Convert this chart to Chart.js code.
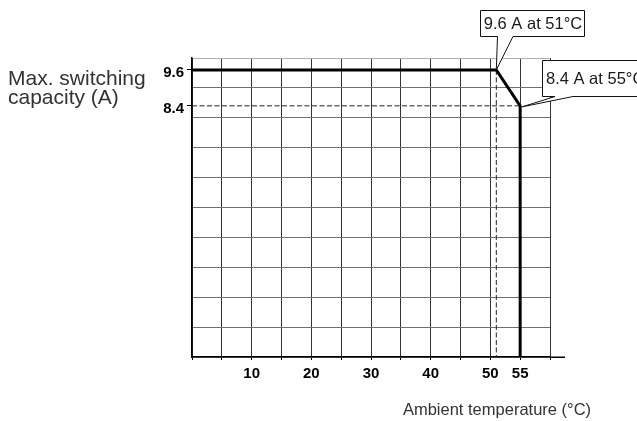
<!DOCTYPE html>
<html>
<head>
<meta charset="utf-8">
<script src="https://cdn.jsdelivr.net/npm/chart.js@4"></script>
<style>
  html, body { margin: 0; padding: 0; background: #fff; }
  #wrap { width: 637px; height: 421px; }
</style>
</head>
<body>
<div id="wrap"><canvas id="derating"></canvas></div>
<script>
// derating curve: max switching current vs ambient temperature
var temps = [0, 51, 55, 55];
var capacity = [9.6, 9.6, 8.4, 0];
var xTickLabels = [10, 20, 30, 40, 50, 55];
var yTickLabels = [9.6, 8.4];
var yGridValues = [0, 1, 2, 3, 4, 5, 6, 7, 8, 9, 10];
var calloutTexts = ['9.6 A at 51°C', '8.4 A at 55°C'];

var FONT = '"Liberation Sans", Arial, Helvetica, sans-serif';

// dashed guide lines from the knee points back to the axes
var guideH = [{x: 0, y: capacity[2]}, {x: temps[2], y: capacity[2]}];
var guideV = [{x: temps[1], y: capacity[1]}, {x: temps[1], y: 0}];

function isLabelled(v) {
  return yTickLabels.indexOf(v) !== -1;
}

function drawCallout(ctx, box, baseX1, baseX2, tip, text, textX, textAlign) {
  ctx.save();
  ctx.beginPath();
  ctx.moveTo(box.l, box.t);
  ctx.lineTo(box.r, box.t);
  ctx.lineTo(box.r, box.b);
  ctx.lineTo(baseX2, box.b);
  ctx.lineTo(tip.x, tip.y);
  ctx.lineTo(baseX1, box.b);
  ctx.lineTo(box.l, box.b);
  ctx.closePath();
  ctx.fillStyle = '#fff';
  ctx.fill();
  ctx.lineWidth = 1;
  ctx.strokeStyle = '#111';
  ctx.stroke();
  ctx.fillStyle = '#1a1a1a';
  ctx.font = '16.5px ' + FONT;
  ctx.textAlign = textAlign;
  ctx.textBaseline = 'middle';
  ctx.fillText(text, textX, (box.t + box.b) / 2 + 0.5);
  ctx.restore();
}

var decor = {
  id: 'decor',
  afterDraw: function(chart) {
    var ctx = chart.ctx;
    var xs = chart.scales.x, ys = chart.scales.y;
    var area = chart.chartArea;

    // x axis line runs a bit past the last grid line
    ctx.save();
    ctx.strokeStyle = '#000';
    ctx.lineWidth = 1.5;
    ctx.beginPath();
    ctx.moveTo(area.right, area.bottom + 0.25);
    ctx.lineTo(area.right + 15, area.bottom + 0.25);
    ctx.stroke();
    ctx.restore();

    var tip1 = {x: xs.getPixelForValue(temps[1]), y: ys.getPixelForValue(capacity[1])};
    var tip2 = {x: xs.getPixelForValue(temps[2]) + 2, y: ys.getPixelForValue(capacity[2]) + 1};
    drawCallout(ctx, {l: 480.5, t: 10.5, r: 584.5, b: 36.5}, 497.5, 513, tip1,
      calloutTexts[0], 533, 'center');
    drawCallout(ctx, {l: 542.5, t: 60.5, r: 660, b: 96.5}, 555, 573, tip2,
      calloutTexts[1], 546, 'left');

    // axis titles
    ctx.save();
    ctx.fillStyle = '#333';
    ctx.textBaseline = 'alphabetic';
    ctx.font = '21px ' + FONT;
    ctx.textAlign = 'left';
    ctx.fillText('Max. switching', 8, 85);
    ctx.fillText('capacity (A)', 8, 104);
    ctx.font = '16.5px ' + FONT;
    ctx.textAlign = 'center';
    ctx.fillText('Ambient temperature (°C)', 497, 415);
    ctx.restore();
  }
};

var chart = new Chart(document.getElementById('derating'), {
  type: 'scatter',
  data: {
    datasets: [
      {
        label: 'capacity',
        data: temps.map(function(t, i) { return {x: t, y: capacity[i]}; }),
        showLine: true,
        borderColor: '#000',
        borderWidth: 3,
        pointRadius: 0,
        fill: false,
        clip: false
      },
      {
        label: 'guideH',
        data: guideH,
        showLine: true,
        borderColor: '#222',
        borderWidth: 1,
        borderDash: [5, 2.5],
        pointRadius: 0
      },
      {
        label: 'guideV',
        data: guideV,
        showLine: true,
        borderColor: '#222',
        borderWidth: 1,
        borderDash: [5, 2.5],
        pointRadius: 0
      }
    ]
  },
  options: {
    responsive: true,
    maintainAspectRatio: false,
    animation: false,
    events: [],
    layout: { padding: { top: 58, right: 87, left: 0, bottom: 0 } },
    plugins: {
      legend: { display: false },
      tooltip: { enabled: false },
      title: { display: false }
    },
    scales: {
      x: {
        type: 'linear',
        min: 0,
        max: 60,
        afterFit: function(s) { s.height = 64; },
        ticks: {
          stepSize: 5,
          autoSkip: false,
          maxRotation: 0,
          padding: 5,
          color: '#000',
          font: { family: FONT, size: 15, weight: 'bold' },
          callback: function(v) { return xTickLabels.indexOf(v) !== -1 ? String(v) : ''; }
        },
        grid: {
          color: '#333',
          lineWidth: 1,
          tickLength: 3,
          tickColor: '#000'
        },
        border: { color: '#000', width: 1.5 }
      },
      y: {
        type: 'linear',
        min: 0,
        max: 10,
        afterFit: function(s) { s.width = 192; },
        afterBuildTicks: function(s) {
          s.ticks = yGridValues.concat(yTickLabels).map(function(v) { return {value: v}; });
        },
        ticks: {
          autoSkip: false,
          padding: 3,
          labelOffset: 3,
          color: '#000',
          font: { family: FONT, size: 15, weight: 'bold' },
          callback: function(v) { return isLabelled(v) ? v.toFixed(1) : ''; }
        },
        grid: {
          lineWidth: 1,
          tickLength: 5,
          color: function(c) {
            var v = c.tick ? c.tick.value : null;
            if (isLabelled(v)) return 'rgba(0,0,0,0)';
            if (v === 10) return '#b0b0b0';
            return '#707070';
          },
          tickColor: function(c) {
            var v = c.tick ? c.tick.value : null;
            return isLabelled(v) ? '#000' : 'rgba(0,0,0,0)';
          }
        },
        border: { color: '#000', width: 1.5 }
      }
    }
  },
  plugins: [decor]
});
</script>
</body>
</html>
